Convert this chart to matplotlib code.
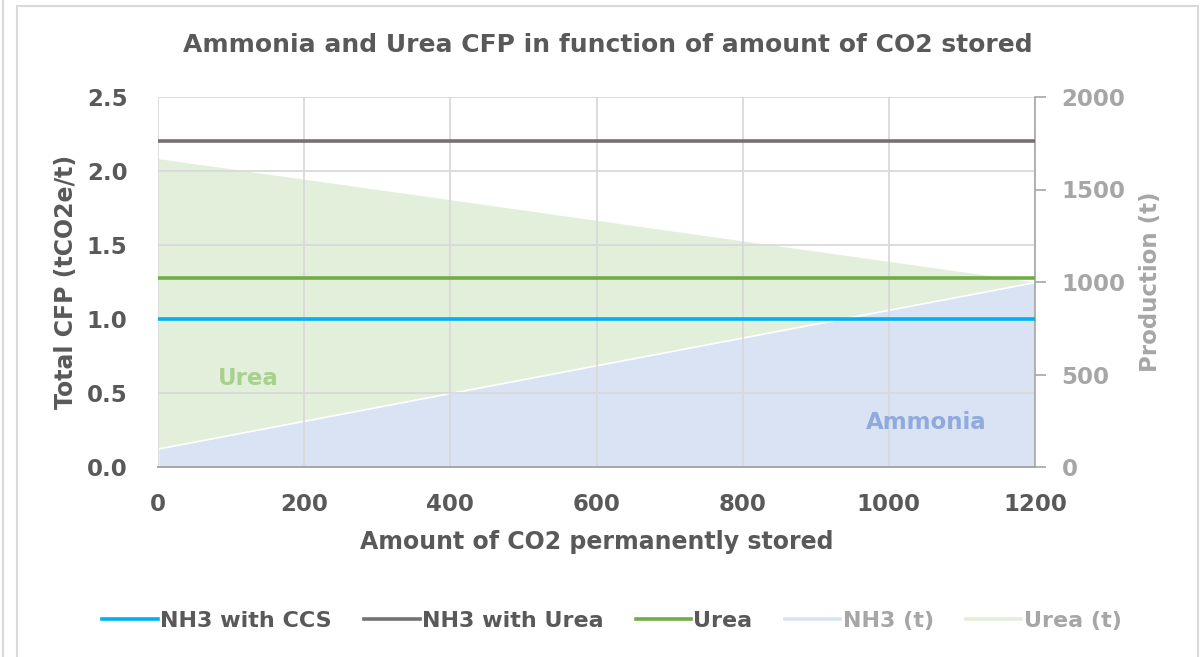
import numpy as np
import matplotlib
matplotlib.use("Agg")
from matplotlib import pyplot as plt
from matplotlib.patches import Rectangle

plt.rcParams['font.family'] = ['DejaVu Sans']

co2_stored = [0, 1200]
nh3_ccs = [1.0, 1.0]
nh3_urea = [2.2, 2.2]
urea_cfp = [1.28, 1.28]
nh3_prod = [100, 1000]
urea_prod = [1667, 1000]

DARK = "#595959"
LIGHT = "#A6A6A6"
GRID = "#D9D9D9"


def main():
    fig = plt.figure(figsize=(12.03, 6.57), dpi=100)
    ax = fig.add_axes([158 / 1203, 1 - 467 / 657, (1035 - 158) / 1203, (467 - 97) / 657])
    ax2 = ax.twinx()

    # production areas on the right axis, behind the CFP lines
    ax2.fill_between(co2_stored, 0, urea_prod, color="#E2EFDA", lw=0, zorder=1)
    ax2.fill_between(co2_stored, 0, nh3_prod, color="#DAE3F3", edgecolor="white", lw=1.2,
                     zorder=1.1)
    # gridlines show through the areas like in Excel
    for x in range(0, 1201, 200):
        ax2.axvline(x, color=GRID, lw=1.3, zorder=1.5)
    for y in range(0, 2001, 400):
        ax2.axhline(y, color=GRID, lw=1.3, zorder=1.5)
    ax2.set_ylim(0, 2000)
    ax2.set_yticks([0, 500, 1000, 1500, 2000])
    ax2.tick_params(axis="y", colors=LIGHT, labelsize=16.5, length=8, width=1.2, pad=11)
    for t in ax2.get_yticklabels():
        t.set_fontweight("bold")
    ax2.set_ylabel("Production (t)", color=LIGHT, fontsize=16.5, fontweight="bold",
                   labelpad=10)

    ax.set_zorder(ax2.get_zorder() + 1)
    ax.patch.set_visible(False)

    l1, = ax.plot(co2_stored, nh3_ccs, color="#00B0F0", lw=2.6, label="NH3 with CCS")
    l2, = ax.plot(co2_stored, nh3_urea, color="#767171", lw=2.6, label="NH3 with Urea")
    l3, = ax.plot(co2_stored, urea_cfp, color="#70AD47", lw=2.6, label="Urea")

    ax.set_xlim(0, 1200)
    ax.set_ylim(0, 2.5)
    ax.set_xticks(range(0, 1201, 200))
    ax.set_yticks(np.arange(0, 2.51, 0.5))
    ax.yaxis.set_major_formatter(matplotlib.ticker.FormatStrFormatter("%.1f"))
    ax.tick_params(axis="y", colors=DARK, labelsize=16.5, length=0, pad=22)
    ax.tick_params(axis="x", colors=DARK, labelsize=16.5, length=0, pad=19)
    for t in ax.get_xticklabels() + ax.get_yticklabels():
        t.set_fontweight("bold")
    ax.set_xlabel("Amount of CO2 permanently stored", color=DARK, fontsize=17,
                  fontweight="bold", labelpad=10)
    ax.set_ylabel("Total CFP (tCO2e/t)", color=DARK, fontsize=17, fontweight="bold",
                  labelpad=6)

    for a in (ax, ax2):
        for s in ("top", "left", "right"):
            a.spines[s].set_visible(False)
        a.spines["bottom"].set_color(LIGHT)
        a.spines["bottom"].set_linewidth(1.2)
    ax2.spines["right"].set_visible(True)
    ax2.spines["right"].set_color(LIGHT)
    ax2.spines["right"].set_linewidth(1.2)

    ax.text(82, 0.6, "Urea", color="#A9D18E", fontsize=16.5, fontweight="bold", va="center")
    ax.text(1051, 0.3, "Ammonia", color="#8FAADC", fontsize=16.5, fontweight="bold",
            ha="center", va="center")

    fig.suptitle("Ammonia and Urea CFP in function of amount of CO2 stored", x=608 / 1203,
                 y=1 - 45 / 657, va="center", color=DARK, fontsize=18, fontweight="bold")

    h_nh3, = ax.plot([], [], color="#DAE3F3", lw=2.6, label="NH3 (t)")
    h_urea, = ax.plot([], [], color="#E2EFDA", lw=2.6, label="Urea (t)")
    leg = fig.legend(handles=[l1, l2, l3, h_nh3, h_urea], loc="center",
                     bbox_to_anchor=(612 / 1203, 1 - 621 / 657), ncol=5, frameon=False,
                     fontsize=16, handlelength=2.5, handletextpad=0.1, columnspacing=1.45)
    for i, t in enumerate(leg.get_texts()):
        t.set_fontweight("bold")
        t.set_color(DARK if i < 3 else LIGHT)

    fig.patches.append(Rectangle((17 / 1203, -0.01), (1198 - 17) / 1203, 1 - 6 / 657 + 0.01,
                                 transform=fig.transFigure, fill=False, ec="#D9D9D9", lw=1.5))
    fig.patches.append(Rectangle((3 / 1203, -0.01), 0, 1.02, transform=fig.transFigure,
                                 fill=False, ec="#D9D9D9", lw=1.5))

    plt.savefig("out.png", dpi=100)


if __name__ == "__main__":
    main()
